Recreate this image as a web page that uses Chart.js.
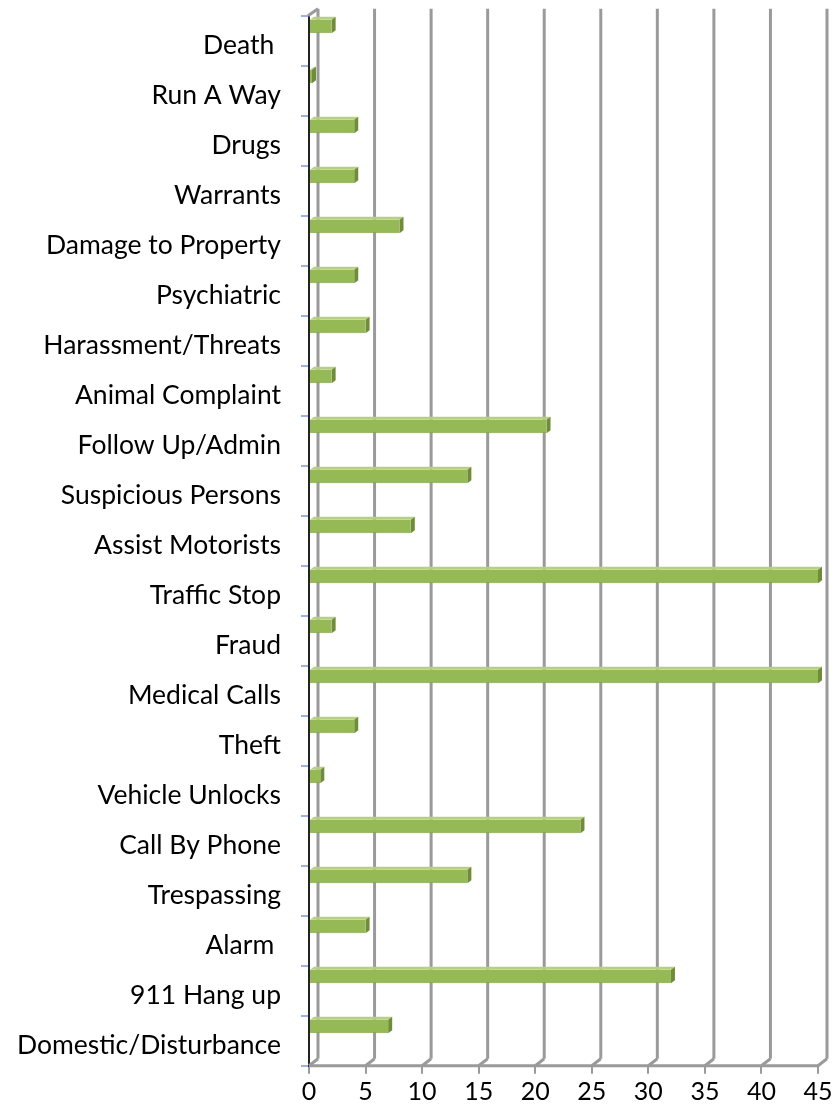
<!DOCTYPE html>
<html>
<head>
<meta charset="utf-8">
<script src="https://cdn.jsdelivr.net/npm/chart.js@4.4.1/dist/chart.umd.min.js"></script>
<style>
  html, body { margin: 0; padding: 0; background: #ffffff; }
  #wrap { position: relative; width: 837px; height: 1109px; }
</style>
</head>
<body>
<div id="wrap"><canvas id="c"></canvas></div>
<script>
const categories = [
  'Death ', 'Run A Way', 'Drugs', 'Warrants', 'Damage to Property', 'Psychiatric',
  'Harassment/Threats', 'Animal Complaint', 'Follow Up/Admin', 'Suspicious Persons',
  'Assist Motorists', 'Traffic Stop', 'Fraud', 'Medical Calls', 'Theft',
  'Vehicle Unlocks', 'Call By Phone', 'Trespassing', 'Alarm ', '911 Hang up',
  'Domestic/Disturbance'
];
const callCounts = [2, 0, 4, 4, 8, 4, 5, 2, 21, 14, 9, 45, 2, 45, 4, 1, 24, 14, 5, 32, 7];
const xTickValues = [0, 5, 10, 15, 20, 25, 30, 35, 40, 45];

const WALL_DX = 9, WALL_DY = -7;
const BAR_DX = 4, BAR_DY = -3;

const wallPlugin = {
  id: 'wall3d',
  beforeDatasetsDraw(chart) {
    const { ctx, chartArea: a, scales: { x } } = chart;
    ctx.save();
    ctx.strokeStyle = '#9a9a9a';
    ctx.lineWidth = 3;
    xTickValues.forEach(v => {
      const px = x.getPixelForValue(v);
      ctx.beginPath();
      ctx.moveTo(px + WALL_DX, a.top + WALL_DY);
      ctx.lineTo(px + WALL_DX, a.bottom + WALL_DY);
      ctx.stroke();
      ctx.beginPath();
      ctx.moveTo(px, a.bottom);
      ctx.lineTo(px + WALL_DX, a.bottom + WALL_DY);
      ctx.stroke();
    });
    ctx.beginPath();
    ctx.moveTo(a.left, a.bottom);
    ctx.lineTo(x.getPixelForValue(45), a.bottom);
    ctx.stroke();
    ctx.beginPath();
    ctx.moveTo(a.left - 1, a.top);
    ctx.lineTo(a.left + WALL_DX, a.top + WALL_DY);
    ctx.stroke();
    ctx.restore();
  },
  afterDatasetsDraw(chart) {
    const { ctx } = chart;
    const meta = chart.getDatasetMeta(0);
    ctx.save();
    meta.data.forEach(bar => {
      const p = bar.getProps(['x', 'y', 'base', 'height'], true);
      const top = p.y - p.height / 2, bottom = p.y + p.height / 2;
      const l = p.base, r = p.x;
      ctx.fillStyle = '#b7cf83';
      ctx.beginPath();
      ctx.moveTo(l, top);
      ctx.lineTo(r, top);
      ctx.lineTo(r + BAR_DX, top + BAR_DY);
      ctx.lineTo(l + BAR_DX, top + BAR_DY);
      ctx.closePath();
      ctx.fill();
      ctx.fillStyle = '#6f8c38';
      ctx.beginPath();
      ctx.moveTo(r, top);
      ctx.lineTo(r + BAR_DX, top + BAR_DY);
      ctx.lineTo(r + BAR_DX, bottom + BAR_DY);
      ctx.lineTo(r, bottom);
      ctx.closePath();
      ctx.fill();
    });
    ctx.restore();
  }
};

new Chart(document.getElementById('c'), {
  type: 'bar',
  data: {
    labels: categories,
    datasets: [
      { data: callCounts, backgroundColor: '#95b954', borderColor: '#84a446', borderWidth: { bottom: 1, top: 0, left: 0, right: 0 }, minBarLength: 3, barPercentage: 0.95, categoryPercentage: 0.85 },
      { data: [], barPercentage: 0.95, categoryPercentage: 0.85 },
      { data: [], barPercentage: 0.95, categoryPercentage: 0.85 }
    ]
  },
  plugins: [wallPlugin],
  options: {
    indexAxis: 'y',
    responsive: true,
    maintainAspectRatio: false,
    animation: false,
    layout: { padding: { top: 15.7, right: 19, bottom: 0, left: 0 } },
    plugins: { legend: { display: false }, tooltip: { enabled: false } },
    scales: {
      x: {
        type: 'linear',
        min: 0, max: 45,
        afterBuildTicks(s) { s.ticks = xTickValues.map(v => ({ value: v })); },
        afterFit(s) { s.height = 1109 - 1065.7; s.paddingLeft = 0; s.paddingRight = 0; },
        ticks: { color: '#000', font: { family: 'Lato', size: 25 }, padding: 3, maxRotation: 0 },
        grid: { drawOnChartArea: false, drawTicks: true, tickLength: 8, color: '#9a9a9a', lineWidth: 2 },
        border: { display: false }
      },
      y: {
        type: 'category',
        offset: true,
        afterFit(s) { s.width = 309; s.paddingTop = 0; s.paddingBottom = 0; },
        ticks: { color: '#000', font: { family: 'Lato', size: 26.5 }, padding: 20, labelOffset: 5, autoSkip: false },
        grid: { offset: true, drawOnChartArea: false, drawTicks: true, tickLength: 8, color: '#9db3dd', lineWidth: 2 },
        border: { display: true, color: '#222', width: 2 }
      }
    }
  }
});
</script>
</body>
</html>
